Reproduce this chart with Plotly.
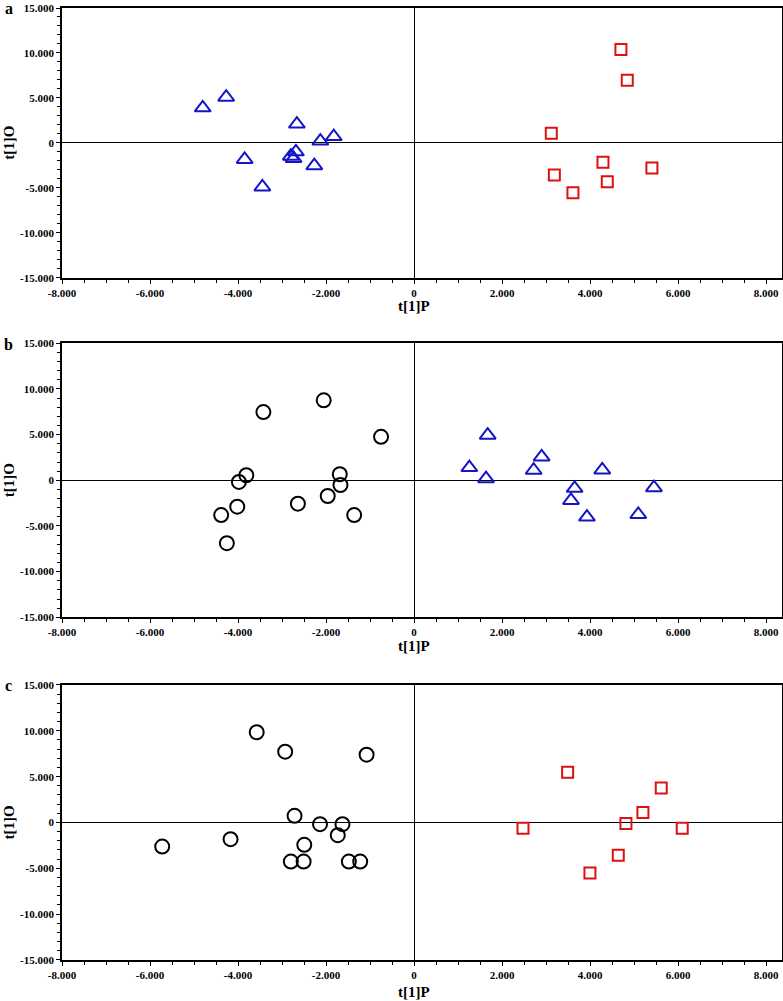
import plotly.graph_objects as go

# ---------------- data ----------------
# Panel a
a_tri_x = [-4802, -4269, -2663, -2130, -1825, -3850, -3447, -2685, -2800, -2739, -2267]
a_tri_y = [3900, 5080, 2090, 200, 700, -1850, -4900, -1000, -1480, -1730, -2540]
a_sq_x = [4700, 4844, 3118, 4292, 5404, 3187, 4390, 3610]
a_sq_y = [10388, 6962, 1057, -2151, -2807, -3572, -4338, -5540]

# Panel b
b_circ_x = [-3424, -2053, -751, -3812, -3980, -1688, -1673, -4018, -2640, -1962, -4383, -1361, -4254]
b_circ_y = [7473, 8755, 4762, 549, -183, 659, -513, -2894, -2564, -1722, -3810, -3810, -6886]
b_tri_x = [1673, 1256, 1635, 2899, 2717, 4276, 3648, 3565, 3928, 5450, 5094]
b_tri_y = [4940, 1390, 180, 2560, 1100, 1130, -880, -2200, -4030, -810, -3740]

# Panel c
c_circ_x = [-3576, -2929, -1079, -2716, -2137, -1627, -1734, -2495, -4170, -5723, -2800, -2510, -1482, -1224]
c_circ_y = [9842, 7727, 7399, 729, -182, -182, -1385, -2442, -1823, -2624, -4265, -4265, -4265, -4265]
c_sq_x = [3489, 5616, 5200, 4814, 2475, 6093, 4640, 3996]
c_sq_y = [5468, 3754, 1094, -109, -620, -620, -3572, -5504]

x_tickvals = [-8000, -6000, -4000, -2000, 0, 2000, 4000, 6000, 8000]
x_ticktext = ["-8.000", "-6.000", "-4.000", "-2.000", "0", "2.000", "4.000", "6.000", "8.000"]
y_tickvals = [-15000, -10000, -5000, 0, 5000, 10000, 15000]
y_ticktext = ["-15.000", "-10.000", "-5.000", "0", "5.000", "10.000", "15.000"]

panel_labels = ["a", "b", "c"]
x_title = "t[1]P"
y_title = "t[1]O"

# ---------------- styling ----------------
BLUE = "#1515c8"
RED = "#dd1111"
BLACK = "#000000"
FONT = "Liberation Serif"

fig = go.Figure()

# plot area spans pixel rows 8..960 (margin t=8, b=41)
domains = [[0.7167, 1.0], [0.3600, 0.6478], [0.0, 0.2889]]

def tri(x, y, xa, ya):
    return go.Scatter(x=x, y=y, mode="markers", xaxis=xa, yaxis=ya,
                      marker=dict(symbol="triangle-up-open", size=14, color=BLUE,
                                  line=dict(width=2, color=BLUE)), showlegend=False)

def sq(x, y, xa, ya):
    return go.Scatter(x=x, y=y, mode="markers", xaxis=xa, yaxis=ya,
                      marker=dict(symbol="square-open", size=11, color=RED,
                                  line=dict(width=2, color=RED)), showlegend=False)

def circ(x, y, xa, ya):
    return go.Scatter(x=x, y=y, mode="markers", xaxis=xa, yaxis=ya,
                      marker=dict(symbol="circle-open", size=14, color=BLACK,
                                  line=dict(width=2, color=BLACK)), showlegend=False)

fig.add_trace(tri(a_tri_x, a_tri_y, "x", "y"))
fig.add_trace(sq(a_sq_x, a_sq_y, "x", "y"))
fig.add_trace(circ(b_circ_x, b_circ_y, "x2", "y2"))
fig.add_trace(tri(b_tri_x, b_tri_y, "x2", "y2"))
fig.add_trace(circ(c_circ_x, c_circ_y, "x3", "y3"))
fig.add_trace(sq(c_sq_x, c_sq_y, "x3", "y3"))

tickfont = dict(family=FONT, size=11, color=BLACK)
bold = lambda lst: ["<b>%s</b>" % t for t in lst]

layout = dict(
    width=783, height=1001,
    margin=dict(l=62, r=1, t=8, b=41, autoexpand=False),
    paper_bgcolor="white", plot_bgcolor="white",
    showlegend=False,
)

for i in range(3):
    sx = "" if i == 0 else str(i + 1)
    layout["xaxis" + sx] = dict(
        domain=[0, 1], anchor="y" + sx, range=[-8000, 8360],
        tickvals=x_tickvals, ticktext=bold(x_ticktext), tickfont=tickfont,
        ticks="outside", ticklen=4, tickwidth=1.2, tickcolor=BLACK,
        minor=dict(dtick=500, tick0=0, ticks="outside", ticklen=3, tickwidth=1, tickcolor=BLACK),
        showline=True, linecolor=BLACK, linewidth=1.8, mirror=True,
        showgrid=False, zeroline=True, zerolinecolor=BLACK, zerolinewidth=1.4,
        fixedrange=True, automargin=False,
    )
    layout["yaxis" + sx] = dict(
        domain=domains[i], anchor="x" + sx, range=[-15000, 15000],
        tickvals=y_tickvals, ticktext=bold(y_ticktext), tickfont=tickfont,
        ticks="outside", ticklen=4, tickwidth=1.2, tickcolor=BLACK,
        minor=dict(dtick=1000, tick0=0, ticks="outside", ticklen=3, tickwidth=1, tickcolor=BLACK),
        showline=True, linecolor=BLACK, linewidth=1.8, mirror=True,
        showgrid=False, zeroline=True, zerolinecolor=BLACK, zerolinewidth=1.4,
        fixedrange=True, automargin=False,
    )

fig.update_layout(**layout)

ann = []
x_title_py = [306, 646, 992]
for i in range(3):
    sx = "" if i == 0 else str(i + 1)
    d0, d1 = domains[i]
    ann.append(dict(text="<b>%s</b>" % x_title, x=0, xref="x" + sx,
                    y=(960 - x_title_py[i]) / 952, yref="paper",
                    showarrow=False, font=dict(family=FONT, size=15, color=BLACK),
                    xanchor="center", yanchor="middle"))
    ann.append(dict(text="<b>%s</b>" % y_title, x=-0.0736, xref="paper", y=(d0 + d1) / 2, yref="paper",
                    showarrow=False, textangle=-90, font=dict(family=FONT, size=15, color=BLACK),
                    xanchor="center", yanchor="middle"))
    ann.append(dict(text="<b>%s</b>" % panel_labels[i], x=-0.074, xref="paper", y=d1 - 0.001, yref="paper",
                    showarrow=False, font=dict(family=FONT, size=16, color=BLACK),
                    xanchor="center", yanchor="middle"))
fig.update_layout(annotations=ann)

fig.write_html(
    "out.html",
    config={"displayModeBar": False},
    post_script="document.body.style.margin='0';document.body.style.overflow='hidden';",
)
